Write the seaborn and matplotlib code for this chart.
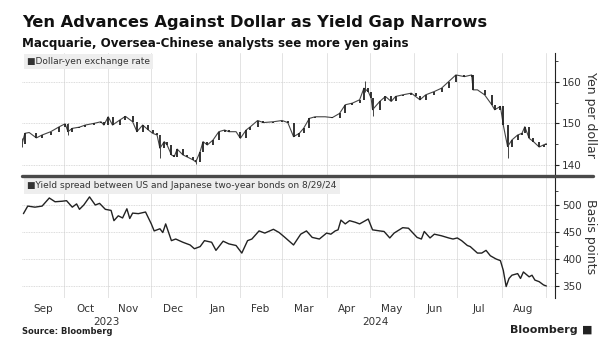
import numpy as np
import pandas as pd
import matplotlib
matplotlib.use('Agg')
import matplotlib.pyplot as plt
import matplotlib.dates as mdates
import matplotlib.ticker as mticker
from matplotlib.lines import Line2D
import seaborn as sns

# Dollar-yen, a close every few days
yen_dates = ['2023-09-02', '2023-09-04', '2023-09-07', '2023-09-12', '2023-09-16', '2023-09-22',
             '2023-09-28', '2023-10-02', '2023-10-04', '2023-10-07', '2023-10-12', '2023-10-16',
             '2023-10-22', '2023-10-27', '2023-10-29', '2023-11-01', '2023-11-04', '2023-11-09',
             '2023-11-13', '2023-11-18', '2023-11-21', '2023-11-25', '2023-11-29', '2023-12-02',
             '2023-12-05', '2023-12-07', '2023-12-10', '2023-12-12', '2023-12-15', '2023-12-17',
             '2023-12-19', '2023-12-23', '2023-12-26', '2023-12-30', '2024-01-01', '2024-01-04',
             '2024-01-06', '2024-01-09', '2024-01-13', '2024-01-17', '2024-01-21', '2024-01-24',
             '2024-01-29', '2024-02-01', '2024-02-05', '2024-02-08', '2024-02-13', '2024-02-17',
             '2024-02-24', '2024-03-01', '2024-03-05', '2024-03-09', '2024-03-13', '2024-03-16',
             '2024-03-20', '2024-03-24', '2024-03-31', '2024-04-05', '2024-04-10', '2024-04-14',
             '2024-04-19', '2024-04-24', '2024-04-27', '2024-04-30', '2024-05-02', '2024-05-03',
             '2024-05-08', '2024-05-12', '2024-05-16', '2024-05-19', '2024-05-24', '2024-05-30',
             '2024-06-02', '2024-06-05', '2024-06-09', '2024-06-15', '2024-06-20', '2024-06-25',
             '2024-06-30', '2024-07-06', '2024-07-11', '2024-07-12', '2024-07-15', '2024-07-20',
             '2024-07-25', '2024-07-27', '2024-07-31', '2024-08-02', '2024-08-05', '2024-08-08',
             '2024-08-12', '2024-08-15', '2024-08-17', '2024-08-20', '2024-08-23', '2024-08-27',
             '2024-08-30', '2024-09-01']
yen_close = [145.0, 147.6, 147.8, 146.5, 147.2, 148.0,
             149.2, 149.9, 148.0, 148.8, 149.1, 149.6,
             150.0, 150.4, 149.6, 151.6, 149.6, 150.8,
             151.7, 150.4, 148.0, 149.6, 148.4, 147.6,
             147.2, 144.0, 145.6, 144.8, 142.4, 142.0,
             143.8, 142.4, 141.9, 141.2, 140.7, 143.2,
             145.6, 144.8, 146.0, 148.0, 148.4, 148.0,
             148.0, 146.4, 148.4, 149.2, 150.7, 150.2,
             150.4, 150.7, 150.2, 146.8, 147.6, 148.8,
             151.2, 151.6, 151.6, 151.4, 152.4, 154.5,
             154.9, 155.7, 158.5, 157.7, 156.1, 153.3,
             155.3, 156.5, 155.3, 156.5, 156.9, 157.3,
             156.5, 155.7, 156.9, 157.7, 158.5, 160.1,
             161.7, 161.3, 161.7, 158.1, 158.1, 156.9,
             154.5, 153.3, 154.1, 149.6, 144.4, 146.0,
             147.2, 147.6, 149.2, 146.4, 145.6, 144.3,
             144.8, 145.1]

# candle wicks that stick out past the closes
wick_dates = ['2023-09-02', '2023-10-04', '2023-12-07', '2024-01-01', '2024-04-28', '2024-05-03', '2024-08-05']
wick_low = [144.2, 147.3, 141.6, 140.3, 157.5, 151.9, 141.6]
wick_high = [146.5, 150.2, 147.2, 141.5, 160.3, 155.0, 146.0]

# US-Japan two-year yield spread, basis points
spread_dates = ['2023-09-03', '2023-09-06', '2023-09-11', '2023-09-16', '2023-09-21', '2023-09-25',
                '2023-09-30', '2023-10-03', '2023-10-07', '2023-10-10', '2023-10-12', '2023-10-15',
                '2023-10-19', '2023-10-23', '2023-10-26', '2023-10-30', '2023-11-03', '2023-11-05',
                '2023-11-08', '2023-11-11', '2023-11-14', '2023-11-16', '2023-11-18', '2023-11-22',
                '2023-11-27', '2023-12-01', '2023-12-03', '2023-12-07', '2023-12-09', '2023-12-11',
                '2023-12-15', '2023-12-18', '2023-12-23', '2023-12-28', '2023-12-31', '2024-01-04',
                '2024-01-07', '2024-01-12', '2024-01-15', '2024-01-20', '2024-01-24', '2024-01-29',
                '2024-02-02', '2024-02-06', '2024-02-09', '2024-02-14', '2024-02-18', '2024-02-24',
                '2024-02-28', '2024-03-03', '2024-03-09', '2024-03-14', '2024-03-18', '2024-03-22',
                '2024-03-27', '2024-04-01', '2024-04-04', '2024-04-07', '2024-04-09', '2024-04-11',
                '2024-04-14', '2024-04-17', '2024-04-21', '2024-04-24', '2024-04-28', '2024-04-30',
                '2024-05-03', '2024-05-08', '2024-05-11', '2024-05-15', '2024-05-18', '2024-05-24',
                '2024-05-28', '2024-06-03', '2024-06-06', '2024-06-08', '2024-06-12', '2024-06-15',
                '2024-06-20', '2024-06-25', '2024-06-28', '2024-07-01', '2024-07-04', '2024-07-08',
                '2024-07-10', '2024-07-15', '2024-07-18', '2024-07-21', '2024-07-24', '2024-07-28',
                '2024-07-31', '2024-08-02', '2024-08-04', '2024-08-06', '2024-08-08', '2024-08-12',
                '2024-08-14', '2024-08-16', '2024-08-20', '2024-08-22', '2024-08-24', '2024-08-27',
                '2024-08-30', '2024-09-01']
spread_bp = [484, 498, 496, 498, 513, 506,
             507, 508, 496, 502, 492, 500,
             515, 500, 503, 492, 490, 471,
             480, 476, 493, 475, 485, 484,
             487, 465, 452, 456, 449, 465,
             434, 437, 431, 426, 419, 423,
             434, 431, 416, 433, 428, 425,
             411, 434, 437, 452, 448, 455,
             449, 440, 426, 446, 452, 440,
             437, 448, 446, 452, 454, 472,
             465, 471, 468, 465, 471, 474,
             454, 452, 451, 439, 448, 458,
             457, 440, 437, 451, 439, 446,
             443, 439, 437, 439, 434, 425,
             423, 411, 411, 416, 406, 400,
             397, 379, 349, 364, 370, 373,
             364, 376, 367, 370, 361, 358,
             352, 350]

month_mid = ['2023-09-17', '2023-10-16', '2023-11-15', '2023-12-16', '2024-01-16', '2024-02-15',
             '2024-03-16', '2024-04-15', '2024-05-16', '2024-06-15', '2024-07-16', '2024-08-16']
month_labels = ['Sep', 'Oct', 'Nov', 'Dec', 'Jan', 'Feb', 'Mar', 'Apr', 'May', 'Jun', 'Jul', 'Aug']
year_mid = ['2023-10-31', '2024-05-05']
year_labels = ['2023', '2024']

yen = pd.DataFrame({'date': pd.to_datetime(yen_dates), 'close': yen_close})
spread = pd.DataFrame({'date': pd.to_datetime(spread_dates), 'bp': spread_bp})

sns.set_style('white')
plt.rcParams['font.family'] = ['DejaVu Sans']

W, H = 611, 350
fig = plt.figure(figsize=(W / 100, H / 100), dpi=100)
left, right = 22 / W, 555 / W
ax1 = fig.add_axes([left, 1 - 176 / H, right - left, 123 / H])
ax2 = fig.add_axes([left, 1 - 298 / H, right - left, 122 / H], sharex=ax1)

dark = '#222222'
txt = '#333333'

# top panel: candle-like bars between consecutive closes
sns.lineplot(data=yen, x='date', y='close', ax=ax1, color='#444444', lw=0.8)
prev = yen['close'].shift(1).fillna(yen['close'])
ax1.vlines(yen['date'], np.minimum(prev, yen['close']), np.maximum(prev, yen['close']),
           color=dark, lw=1.3)
ax1.vlines(pd.to_datetime(wick_dates), wick_low, wick_high, color='#444444', lw=0.7)

# bottom panel: spread line
sns.lineplot(data=spread, x='date', y='bp', ax=ax2, color=dark, lw=1.0)

ax1.set_ylim(137.3, 167.0)
ax2.set_ylim(327.8, 553.7)
ax1.set_xlim(pd.Timestamp('2023-09-02'), pd.Timestamp('2024-09-07'))

for ax in (ax1, ax2):
    ax.set_xlabel('')
    ax.yaxis.tick_right()
    ax.yaxis.set_label_position('right')
    for s in ('left', 'top', 'bottom'):
        ax.spines[s].set_visible(False)
    ax.spines['right'].set_color(dark)
    ax.spines['right'].set_linewidth(0.8)
    ax.xaxis.set_major_locator(mdates.MonthLocator())
    ax.grid(axis='x', color='#e3e3e3', lw=0.7)
    ax.grid(axis='y', color='#d0d0d0', lw=0.6, ls=(0, (1, 1)))
    ax.tick_params(axis='y', which='both', direction='out', colors=dark, labelcolor=txt,
                   labelsize=7.5, pad=2)
    ax.tick_params(axis='y', which='major', length=3)
    ax.tick_params(axis='y', which='minor', length=2)
    ax.tick_params(axis='x', which='major', length=0)
    ax.set_axisbelow(True)

ax1.yaxis.set_major_locator(mticker.FixedLocator([140, 150, 160]))
ax1.yaxis.set_minor_locator(mticker.FixedLocator([145, 155, 165]))
ax2.yaxis.set_major_locator(mticker.FixedLocator([350, 400, 450, 500]))
ax2.yaxis.set_minor_locator(mticker.FixedLocator([375, 425, 475, 525]))

ax1.set_ylabel('Yen per dollar', rotation=270, fontsize=9, color=txt, labelpad=11)
ax2.set_ylabel('Basis points', rotation=270, fontsize=9, color=txt, labelpad=11)

ax2.xaxis.set_major_formatter(mticker.NullFormatter())
ax2.set_xticks(pd.to_datetime(month_mid), month_labels, minor=True)
ax2.tick_params(axis='x', which='minor', length=0, labelsize=7.5, labelcolor=txt, pad=4)
ax1.tick_params(axis='x', which='both', length=0, labelbottom=False)
for d, lab in zip(year_mid, year_labels):
    ax2.text(pd.Timestamp(d), -0.2, lab, transform=ax2.get_xaxis_transform(),
             ha='center', va='center', fontsize=7.5, color=txt)

# series labels in grey boxes
box = dict(boxstyle='square,pad=0.35', fc='#eeeeee', ec='none')
ax1.text(0.01, 0.965, '\u25a0Dollar-yen exchange rate', transform=ax1.transAxes,
         ha='left', va='top', fontsize=6.5, color=txt, bbox=box)
ax2.text(0.01, 0.955, '\u25a0Yield spread between US and Japanese two-year bonds on 8/29/24',
         transform=ax2.transAxes, ha='left', va='top', fontsize=6.5, color=txt, bbox=box)

# heavy divider between the panels
fig.add_artist(Line2D([22 / W, 593 / W], [1 - 176 / H, 1 - 176 / H], color='#4a4a4a', lw=2.4))

fig.text(22 / W, 1 - 23 / H, 'Yen Advances Against Dollar as Yield Gap Narrows',
         fontsize=11.7, fontweight='bold', color='#111111', va='center')
fig.text(22 / W, 1 - 44 / H, 'Macquarie, Oversea-Chinese analysts see more yen gains',
         fontsize=8.6, fontweight='bold', color='#111111', va='center')
fig.text(22 / W, 1 - 332 / H, 'Source: Bloomberg', fontsize=6, fontweight='bold',
         color='#222222', va='center')
fig.text(578 / W, 1 - 330 / H, 'Bloomberg', fontsize=8, fontweight='bold',
         color='#222222', va='center', ha='right')
fig.text(582 / W, 1 - 330 / H, '\u25a0', fontsize=8, color='#222222', va='center', ha='left')

fig.savefig('out.png', dpi=100, facecolor='white')
